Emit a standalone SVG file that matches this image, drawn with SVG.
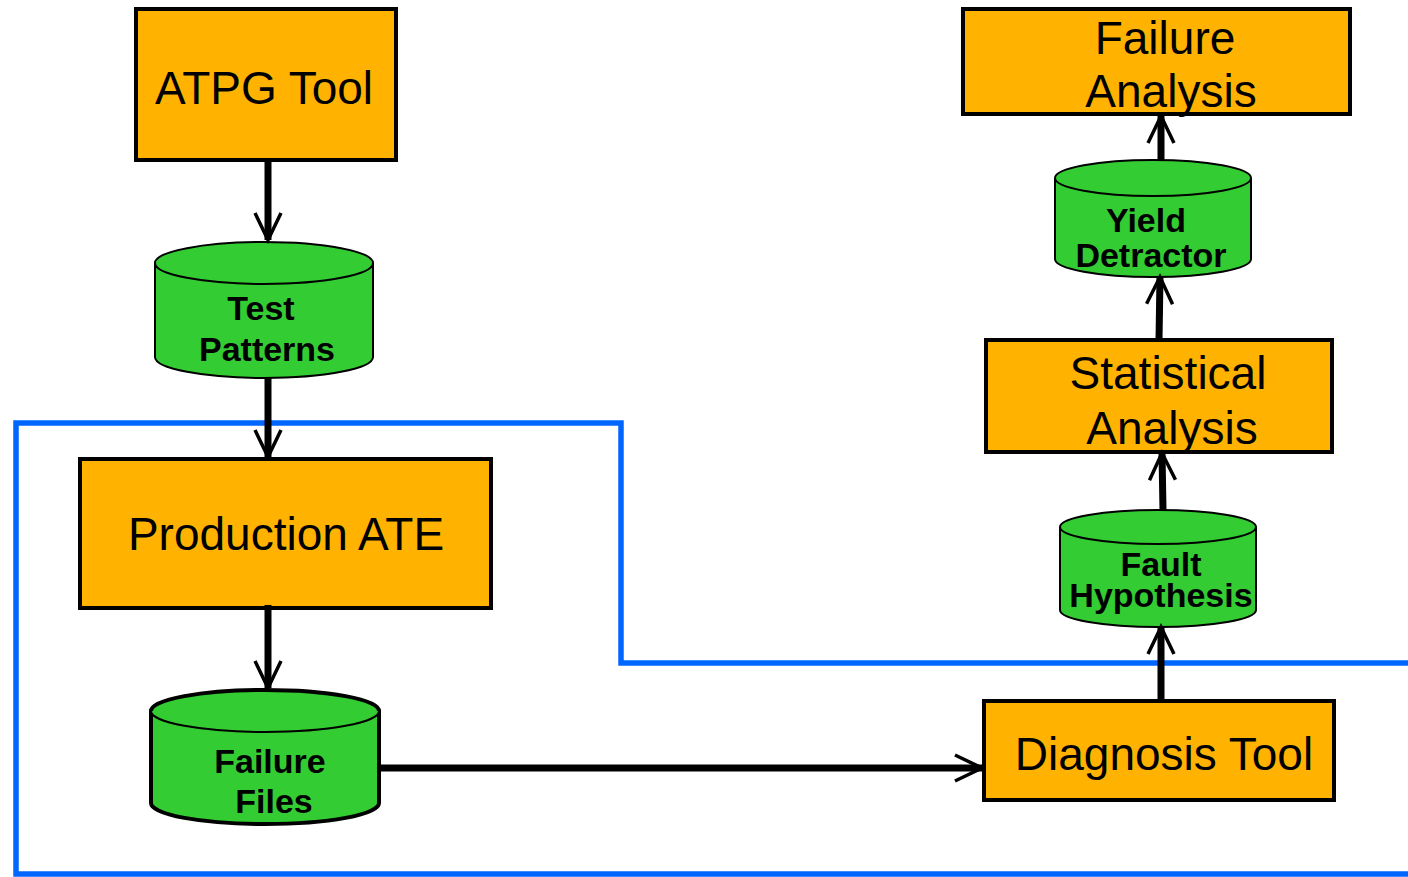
<svg xmlns="http://www.w3.org/2000/svg" width="1408" height="877" viewBox="0 0 1408 877">
<style>
.box{fill:#FFB300;stroke:#000;stroke-width:4}
.cyl{fill:#33CC33;stroke:#000;stroke-width:2}
.cyl.thick{stroke-width:4}
.t{font-family:"Liberation Sans",Arial,sans-serif;font-size:46px;fill:#000;text-anchor:middle}
.b{font-family:"Liberation Sans",Arial,sans-serif;font-size:34px;font-weight:bold;fill:#000;text-anchor:middle}
.con{stroke:#000;stroke-width:7;fill:none;marker-end:url(#ah)}
</style>
<defs>
<marker id="ah" markerUnits="userSpaceOnUse" markerWidth="40" markerHeight="40" viewBox="-34 -20 40 40" refX="0" refY="0" orient="auto">
<path d="M-27,-13 L0,0 L-27,13" fill="none" stroke="#000" stroke-width="3.5"/>
</marker>
</defs>
<rect width="1408" height="877" fill="#fff"/>
<polyline id="boundary" points="1408,663 621,663 621,423 16,423 16,874 1408,874" fill="none" stroke="#0066FF" stroke-width="5.5"/>

<g id="atpg-tool">
<rect class="box" x="136" y="9" width="260" height="151"/>
<text class="t" x="264" y="104">ATPG Tool</text>
</g>
<g id="test-patterns">
<path class="cyl" d="M155,263 L155,357 A109,21 0 0 0 373,357 L373,263 A109,21 0 0 0 155,263 Z"/>
<path class="cyl" fill="none" d="M155,263 A109,21 0 0 0 373,263"/>
<text class="b" x="261" y="320">Test</text>
<text class="b" x="267" y="361">Patterns</text>
</g>
<g id="production-ate">
<rect class="box" x="80" y="459" width="411" height="149"/>
<text class="t" x="286" y="550">Production ATE</text>
</g>
<g id="failure-files">
<path class="cyl thick" d="M151,711 L151,803 A114,21 0 0 0 379,803 L379,711 A114,21 0 0 0 151,711 Z"/>
<path class="cyl" fill="none" d="M151,711 A114,21 0 0 0 379,711"/>
<text class="b" x="270" y="773">Failure</text>
<text class="b" x="274" y="813">Files</text>
</g>
<g id="diagnosis-tool">
<rect class="box" x="984" y="701" width="350" height="99"/>
<text class="t" x="1164" y="770">Diagnosis Tool</text>
</g>
<g id="fault-hypothesis">
<path class="cyl" d="M1060,527 L1060,610 A98,17 0 0 0 1256,610 L1256,527 A98,17 0 0 0 1060,527 Z"/>
<path class="cyl" fill="none" d="M1060,527 A98,17 0 0 0 1256,527"/>
<text class="b" x="1161" y="576">Fault</text>
<text class="b" x="1161" y="607">Hypothesis</text>
</g>
<g id="statistical-analysis">
<rect class="box" x="986" y="340" width="346" height="112"/>
<text class="t" x="1168" y="389">Statistical</text>
<text class="t" x="1172" y="444">Analysis</text>
</g>
<g id="yield-detractor">
<path class="cyl" d="M1055,178 L1055,259 A98,18 0 0 0 1251,259 L1251,178 A98,18 0 0 0 1055,178 Z"/>
<path class="cyl" fill="none" d="M1055,178 A98,18 0 0 0 1251,178"/>
<text class="b" x="1146" y="232">Yield</text>
<text class="b" x="1151" y="267">Detractor</text>
</g>
<g id="failure-analysis">
<rect class="box" x="963" y="9" width="387" height="105"/>
<text class="t" x="1165" y="54">Failure</text>
<text class="t" x="1171" y="107">Analysis</text>
</g>

<g id="connectors">
<line class="con" x1="268" y1="160" x2="268" y2="240"/>
<line class="con" x1="268" y1="378" x2="268" y2="457"/>
<line class="con" x1="268" y1="605" x2="268" y2="688"/>
<line class="con" x1="380" y1="768" x2="982" y2="768"/>
<line class="con" x1="1161" y1="699" x2="1161" y2="627"/>
<line class="con" x1="1163" y1="510" x2="1162" y2="453"/>
<line class="con" x1="1159" y1="340" x2="1160" y2="277"/>
<line class="con" x1="1161" y1="160" x2="1161" y2="116"/>
</g>
</svg>
